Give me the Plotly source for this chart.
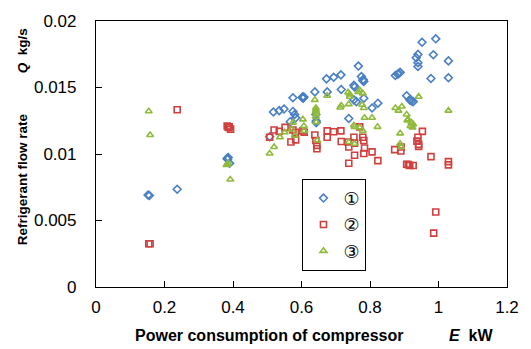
import plotly.graph_objects as go

# Series 1 (blue diamonds)
e1 = [0.152, 0.156, 0.237, 0.383, 0.386, 0.390, 0.384, 0.507, 0.518, 0.535, 0.549, 0.567,
      0.575, 0.575, 0.580, 0.583, 0.604, 0.605, 0.607, 0.602, 0.639, 0.642, 0.643, 0.643,
      0.673, 0.675, 0.694, 0.715, 0.716, 0.738, 0.753, 0.755, 0.753, 0.760, 0.766, 0.775,
      0.779, 0.782, 0.780, 0.782, 0.806, 0.823, 0.874, 0.881, 0.888, 0.884, 0.907, 0.916,
      0.921, 0.926, 0.918, 0.940, 0.935, 0.940, 0.940, 0.952, 0.978, 0.985, 0.992, 1.029, 1.029]
q1 = [0.00692, 0.00688, 0.00735, 0.00967, 0.00974, 0.0093, 0.0096, 0.0113, 0.01316, 0.01326, 0.01338, 0.01243,
      0.01423, 0.0132, 0.01297, 0.01272, 0.01431, 0.0142, 0.01428, 0.01425, 0.01467, 0.01297, 0.01248, 0.01236,
      0.01565, 0.01467, 0.01577, 0.01595, 0.01485, 0.01267, 0.01516, 0.01504, 0.01407, 0.01394, 0.01661, 0.01582,
      0.01553, 0.01546, 0.0156, 0.01419, 0.01346, 0.01382, 0.0159, 0.0160, 0.01614, 0.01605, 0.01438, 0.01407,
      0.01399, 0.01394, 0.0141, 0.01749, 0.01724, 0.01687, 0.01658, 0.0184, 0.01568, 0.01746, 0.01866, 0.0170, 0.01573]

# Series 2 (red squares)
e2 = [0.154, 0.158, 0.237, 0.383, 0.389, 0.393, 0.386, 0.507, 0.520, 0.535, 0.552, 0.569,
      0.575, 0.582, 0.583, 0.604, 0.608, 0.639, 0.642, 0.645, 0.645, 0.675, 0.675, 0.694,
      0.715, 0.716, 0.736, 0.738, 0.738, 0.753, 0.755, 0.755, 0.770, 0.779, 0.782, 0.784,
      0.782, 0.806, 0.823, 0.872, 0.890, 0.891, 0.907, 0.916, 0.926, 0.912, 0.940, 0.937,
      0.942, 0.942, 0.953, 0.978, 0.992, 0.986, 1.029, 1.029]
q2 = [0.00325, 0.00325, 0.01333, 0.01211, 0.01204, 0.01187, 0.0120, 0.01126, 0.0118, 0.0117, 0.0120, 0.0109,
      0.0118, 0.01163, 0.01106, 0.01174, 0.01163, 0.01143, 0.01102, 0.01065, 0.0104, 0.01174, 0.01126, 0.01167,
      0.01174, 0.01094, 0.0109, 0.01053, 0.0093, 0.01126, 0.01082, 0.00991, 0.01204, 0.01126, 0.01102, 0.01045,
      0.01004, 0.01016, 0.0095, 0.01033, 0.01023, 0.01053, 0.00923, 0.00913, 0.00913, 0.0092, 0.01126, 0.01097,
      0.01072, 0.01057, 0.0117, 0.0098, 0.00564, 0.00405, 0.00943, 0.00918]

# Series 3 (green triangles)
e3 = [0.154, 0.158, 0.381, 0.386, 0.383, 0.392, 0.507, 0.520, 0.537, 0.551, 0.571, 0.575,
      0.580, 0.604, 0.607, 0.608, 0.639, 0.642, 0.642, 0.642, 0.643, 0.642, 0.643, 0.646,
      0.675, 0.713, 0.716, 0.736, 0.741, 0.766, 0.770, 0.779, 0.738, 0.741, 0.777, 0.782,
      0.784, 0.806, 0.755, 0.770, 0.753, 0.779, 0.822, 0.738, 0.755, 0.874, 0.883, 0.893,
      0.907, 0.911, 0.909, 0.921, 0.918, 0.924, 0.926, 0.888, 0.888, 0.891, 0.942, 1.029]
q3 = [0.01321, 0.01143, 0.00918, 0.0093, 0.0092, 0.00808, 0.01004, 0.01053, 0.01126, 0.01163, 0.01187, 0.01236,
      0.01138, 0.0126, 0.0121, 0.01174, 0.01407, 0.01346, 0.0133, 0.0132, 0.0130, 0.0128, 0.0124, 0.01102,
      0.01438, 0.0135, 0.01365, 0.01463, 0.01448, 0.01467, 0.0148, 0.01456, 0.01375, 0.01431, 0.0137, 0.01346,
      0.01272, 0.01272, 0.01204, 0.0120, 0.01216, 0.01174, 0.01204, 0.0109, 0.01077, 0.01346, 0.01326, 0.01357,
      0.01297, 0.0126, 0.01253, 0.01236, 0.0121, 0.0120, 0.01223, 0.01155, 0.01077, 0.01053, 0.01431, 0.01326]

names = ["①", "②", "③"]
x_ticks = [0, 0.2, 0.4, 0.6, 0.8, 1, 1.2]
x_tick_text = ["0", "0.2", "0.4", "0.6", "0.8", "1", "1.2"]
y_ticks = [0, 0.005, 0.01, 0.015, 0.02]
y_tick_text = ["0", "0.005", "0.01", "0.015", "0.02"]

FONT = "Liberation Sans"
fig = go.Figure()
styles = [("diamond-open", "#4a7fc4", 6), ("square-open", "#d0403f", 6), ("triangle-up-open", "#8fba3c", 6)]
for (ex, qy, nm, (sym, col, sz)) in zip([e1, e2, e3], [q1, q2, q3], names, styles):
    fig.add_trace(go.Scatter(x=ex, y=qy, mode="markers", name=nm,
                             marker=dict(symbol=sym, color=col, size=sz, line=dict(width=1.6, color=col))))

fig.update_layout(
    width=531, height=349,
    margin=dict(l=96, r=13, t=14, b=62),
    paper_bgcolor="white", plot_bgcolor="white",
    font=dict(family=FONT, color="black"),
    legend=dict(x=(308 - 96) / 422, y=(287 - 176) / 273, xanchor="left", yanchor="top",
                bordercolor="black", borderwidth=1, bgcolor="white",
                font=dict(size=18, family="DejaVu Sans"), tracegroupgap=0,
                itemwidth=30),
)
fig.update_xaxes(range=[0, 1.2], tickvals=x_ticks, ticktext=x_tick_text,
                 ticks="inside", ticklen=6, tickcolor="black", showgrid=False, zeroline=False,
                 showline=True, linecolor="black", linewidth=1.2, mirror=True,
                 tickfont=dict(size=17, family=FONT), ticklabelstandoff=4)
fig.update_yaxes(range=[0, 0.02], tickvals=y_ticks, ticktext=y_tick_text,
                 ticks="inside", ticklen=6, tickcolor="black", showgrid=False, zeroline=False,
                 showline=True, linecolor="black", linewidth=1.2, mirror=True,
                 tickfont=dict(size=17, family=FONT), ticklabelstandoff=15)

fig.add_annotation(text="<b>Power consumption of compressor</b>", xref="paper", yref="paper",
                   x=(273.5 - 96) / 422, y=-(337 - 287) / 273, showarrow=False,
                   font=dict(size=16, family=FONT), xanchor="center", yanchor="middle")
fig.add_annotation(text="<b><i>E</i>\u00a0\u00a0kW</b>", xref="paper", yref="paper",
                   x=(481 - 96) / 422, y=-(337 - 287) / 273, showarrow=False,
                   font=dict(size=16, family=FONT), xanchor="center", yanchor="middle")
fig.add_annotation(text="<b>Refrigerant flow rate</b>", xref="paper", yref="paper",
                   x=(20 - 96) / 422, y=(287 - 176.5) / 273, showarrow=False, textangle=-90,
                   font=dict(size=13.5, family=FONT), xanchor="center", yanchor="middle")
fig.add_annotation(text="<b><i>Q</i>\u00a0\u00a0kg/s</b>", xref="paper", yref="paper",
                   x=(20 - 96) / 422, y=(287 - 44) / 273, showarrow=False, textangle=-90,
                   font=dict(size=13.5, family=FONT), xanchor="center", yanchor="middle")

fig.write_html("out.html", config={"displayModeBar": False},
               post_script="document.body.style.margin='0';document.body.style.overflow='hidden';")
